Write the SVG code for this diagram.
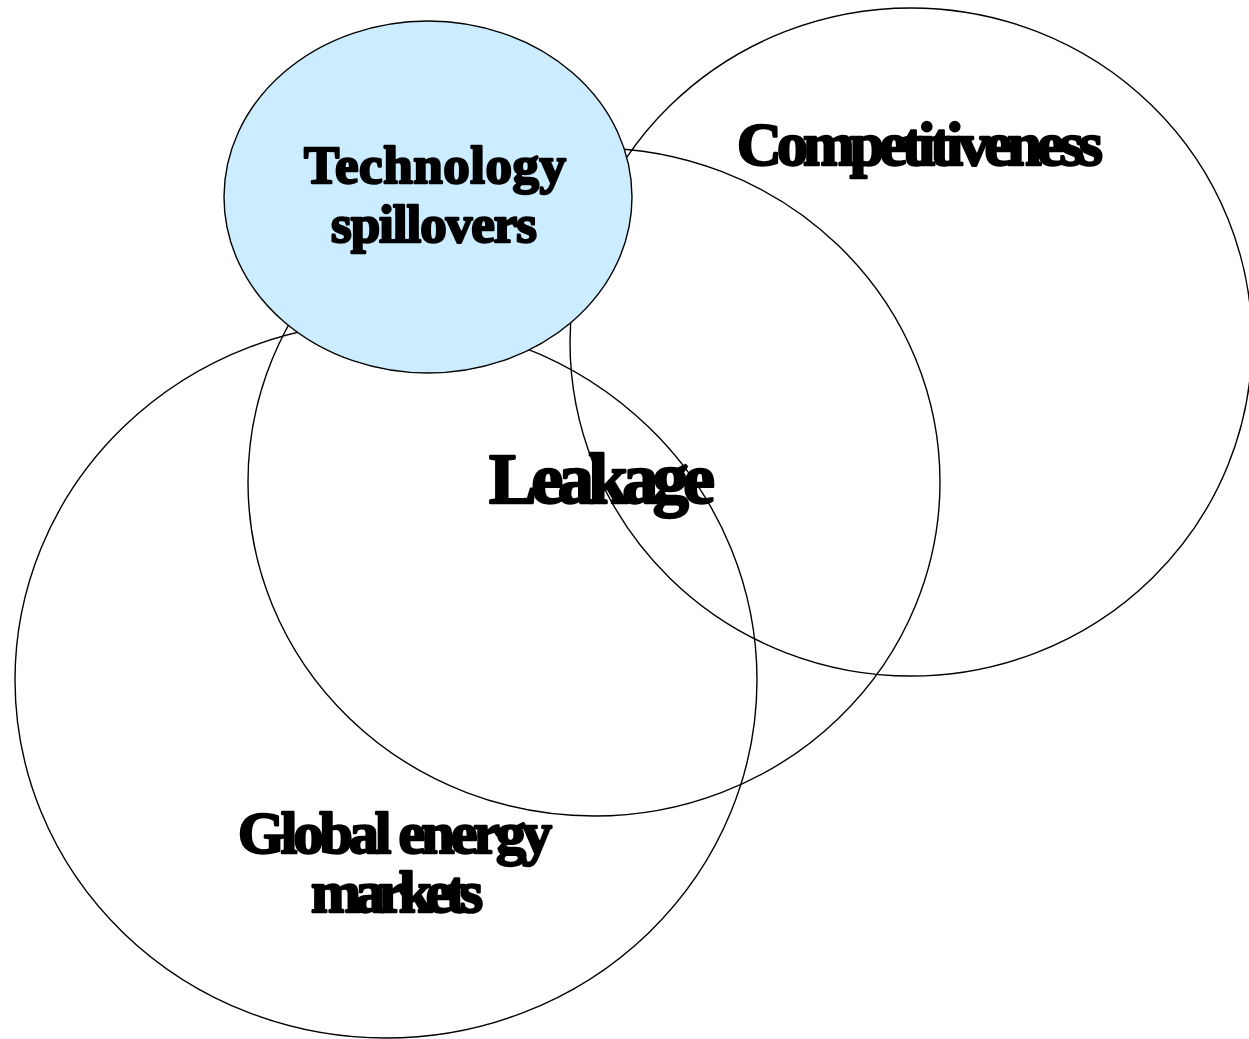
<svg xmlns="http://www.w3.org/2000/svg" width="1249" height="1039" viewBox="0 0 1249 1039">
<style>
.c{fill:none;stroke:#000;stroke-width:1.4}
.t{font-family:"Liberation Serif","Times New Roman",serif;font-weight:bold;fill:#000;stroke:#000;stroke-width:2.4;stroke-linejoin:round}
</style>
<rect width="1249" height="1039" fill="#fff"/>
<g id="competitiveness">
<ellipse class="c" cx="911" cy="342" rx="341" ry="334"/>
<text class="t" x="737" y="165" font-size="62" textLength="366" lengthAdjust="spacing">Competitiveness</text>
</g>
<g id="global-energy-markets">
<ellipse class="c" cx="386" cy="680" rx="371" ry="358"/>
<text class="t" x="238" y="853" font-size="60" textLength="314" lengthAdjust="spacing">Global energy</text>
<text class="t" x="311" y="912" font-size="60" textLength="172" lengthAdjust="spacing">markets</text>
</g>
<g id="leakage">
<ellipse class="c" cx="594" cy="482" rx="346" ry="334"/>
<text class="t" x="489" y="503" font-size="72" textLength="226" lengthAdjust="spacing">Leakage</text>
</g>
<g id="technology-spillovers">
<ellipse cx="428" cy="197" rx="204" ry="176" fill="#CCECFF" stroke="#000" stroke-width="1.4"/>
<text class="t" x="304" y="183" font-size="53" textLength="262" lengthAdjust="spacing">Technology</text>
<text class="t" x="331" y="242" font-size="53" textLength="206" lengthAdjust="spacing">spillovers</text>
</g>
<g id="connectors"></g>
</svg>
